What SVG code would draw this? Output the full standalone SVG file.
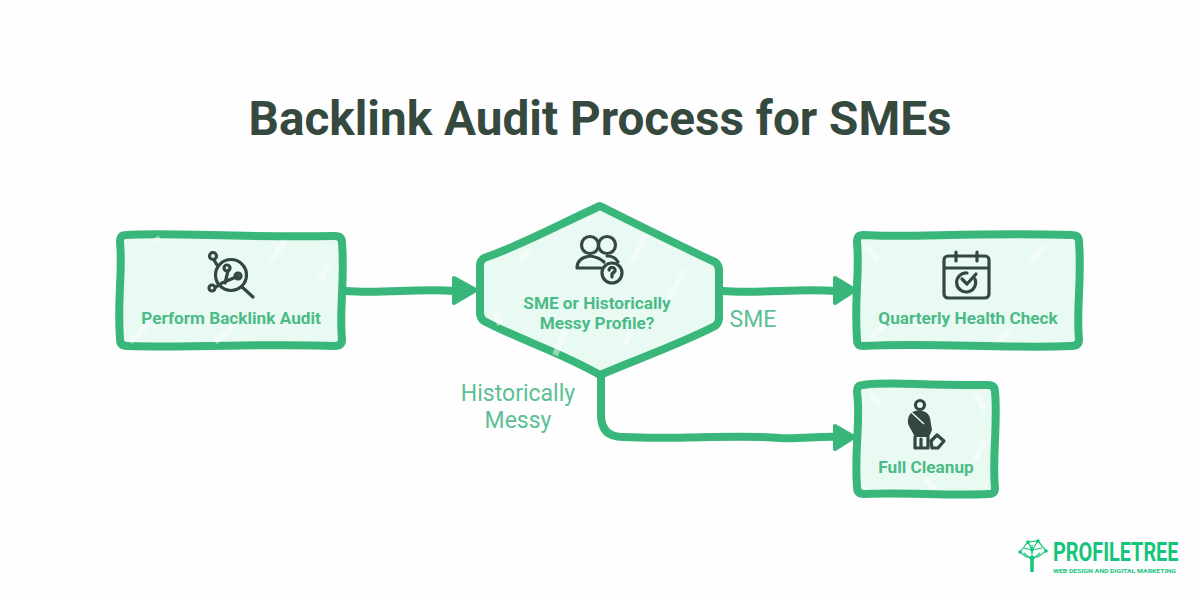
<svg xmlns="http://www.w3.org/2000/svg" width="1200" height="600" viewBox="0 0 1200 600">
<defs>
<style>
.box{fill:#e9faf3;stroke:#39b67a;stroke-width:8;stroke-linejoin:round}
.line{fill:none;stroke:#39b67a;stroke-width:8;stroke-linecap:round;stroke-linejoin:round}
.head{fill:#39b67a;stroke:#39b67a;stroke-width:4;stroke-linejoin:round}
.nt{font-family:Roboto,"Liberation Sans",sans-serif;font-weight:700;font-size:17.2px;fill:#4cbb87;text-anchor:middle}
.lb{font-family:Roboto,"Liberation Sans",sans-serif;font-size:23px;fill:#5cc094;text-anchor:middle}
.ic{fill:none;stroke:#34483f;stroke-width:3.2;stroke-linecap:round;stroke-linejoin:round}
.icf{fill:#34483f}
.sheen{fill:none;stroke:#fff;stroke-width:6;opacity:.45}
.logo{font-family:Roboto,"Liberation Sans",sans-serif;font-weight:700;fill:#14c47a}
</style>
</defs>
<rect width="1200" height="600" fill="#fefefe"/>
<text id="title" x="600" y="135" font-family="Roboto,'Liberation Sans',sans-serif" font-weight="700" font-size="47.700" fill="#36493f" text-anchor="middle">Backlink Audit Process for SMEs</text>

<g id="connectors">
<path class="line" d="M346 291C380 294 420 288 455 291"/>
<path class="head" d="M454 278L476 290L454 303Z"/>
<path class="line" d="M722 291C760 294 800 288 835 291"/>
<path class="head" d="M835 278L855 290L835 303Z"/>
<path class="line" d="M601 375V415Q601 437 623 437C680 440 730 434 780 438C800 439 820 436 838 437"/>
<path class="head" d="M835 426L854 437L835 449Z"/>
</g>

<g id="node-audit">
<path class="box" d="M126 235C170 232 240 238 335 236Q342 236 342 243C345 280 339 310 342 339Q342 346 335 346C270 343 200 348 127 346Q120 346 120 339C117 300 123 270 120 242Q120 235 126 235Z"/>
<path class="sheen" d="M155 241L160 238M285 241L270 262M330 262L320 280M130 342L150 322M215 342L235 325"/>
<circle class="ic" cx="231" cy="275" r="15.500"/>
<path class="ic" d="M242 287L253 297M217 265L214 260M216 287L222 283L236 277M225 283L228 271M236 277L238 276"/>
<circle class="ic" cx="213" cy="256" r="3.500"/>
<circle class="ic" cx="212" cy="288" r="3"/>
<circle class="ic" cx="227" cy="268" r="3"/>
<circle class="ic" cx="238" cy="276" r="3"/>
<text class="nt" x="231" y="323.500">Perform Backlink Audit</text>
</g>

<g id="node-decision">
<path class="box" d="M600 206C640 226 680 246 715 262Q719 265 719 270L719 318Q719 323 715 326C680 344 640 358 600 375C560 352 520 340 484 321Q480 318 480 313L480 265Q480 261 484 258C520 246 560 224 600 206Z"/>
<path class="sheen" d="M530 250L520 262M645 235L632 262M685 270L662 310M570 320L555 355M635 320L625 345M495 310L500 325"/>
<circle class="ic" cx="590" cy="245" r="8.500"/>
<circle class="ic" cx="607" cy="245" r="8.500"/>
<path class="ic" d="M577 268C577 260 583 257 590 256C597 257 601 259 604 262M577 268H601M607 256C612 256 616 258 618 262"/>
<circle class="ic" cx="612" cy="273" r="10"/>
<path class="ic" d="M609 270C610 266 616 267 615 271L612 274V277" stroke-width="2"/>
<text class="nt" x="597" y="309">SME or Historically</text>
<text class="nt" x="597" y="329">Messy Profile?</text>
</g>

<g id="node-quarterly">
<path class="box" d="M863 235C900 238 980 232 1072 235Q1079 235 1079 242C1082 280 1076 310 1079 339Q1079 346 1072 346C1000 349 930 342 863 346Q857 346 857 339C854 300 860 270 857 242Q857 235 863 235Z"/>
<path class="sheen" d="M865 245L878 262M1045 245L1030 262M870 338L885 325M1000 340L1010 330"/>
<rect class="ic" x="944" y="256" width="45" height="42" rx="4" stroke-width="4"/>
<path class="ic" d="M956 252V261M977 252V261M945 268H988" stroke-width="3.500"/>
<path class="ic" d="M975 279A9.500 9.500 0 1 1 967 273" stroke-width="3.500"/>
<path class="ic" d="M962 279L967 284L976 274" stroke-width="3"/>
<text class="nt" x="968" y="324">Quarterly Health Check</text>
</g>

<g id="node-cleanup">
<path class="box" d="M863 385C890 381 920 386 988 385Q995 385 995 392C998 420 992 460 995 488Q995 494 988 494C950 496 900 492 864 494Q857 494 857 487C854 450 861 420 857 392Q857 385 863 385Z"/>
<path class="sheen" d="M870 393L880 405M975 395L985 410M985 440L975 460M935 488L925 480"/>
<circle class="ic" cx="920" cy="405" r="4.500"/>
<path class="icf" d="M912 412C918 409 928 410 930 418L932 430L929 437H915L908 424Q907 416 912 412Z"/>
<path class="ic" d="M915 437V448H928V437M921 439V447" stroke-width="3"/>
<path class="ic" d="M931 441L937 435L944 441L938 448H932Z" stroke-width="2.500"/>
<path d="M910 411L924 424" stroke="#e9faf3" stroke-width="1.500"/>
<text class="nt" x="926" y="473">Full Cleanup</text>
</g>

<text class="lb" x="753" y="327">SME</text>
<text class="lb" x="518" y="401">Historically</text>
<text class="lb" x="518" y="428">Messy</text>

<g id="logo">
<path d="M1032 572V556" stroke="#14c47a" stroke-width="3.500" fill="none"/>
<path d="M1032 560L1024 553M1032 560L1040 553M1032 556V545M1020 552L1028 542L1038 541L1046 551L1038 557L1026 557ZM1028 542L1032 550L1038 541M1024 548L1032 550L1042 548" stroke="#14c47a" stroke-width="1.200" fill="none"/>
<circle cx="1020" cy="552" r="1.800" fill="#14c47a"/><circle cx="1028" cy="542" r="1.800" fill="#14c47a"/><circle cx="1038" cy="541" r="1.800" fill="#14c47a"/><circle cx="1046" cy="551" r="1.800" fill="#14c47a"/><circle cx="1032" cy="550" r="1.800" fill="#14c47a"/>
<text class="logo" transform="translate(1053 561) scale(.795 1)" font-size="25">PROFILETREE</text>
<text class="logo" x="1053" y="573" font-size="5.500" textLength="123" lengthAdjust="spacingAndGlyphs">WEB DESIGN AND DIGITAL MARKETING</text>
</g>
</svg>
